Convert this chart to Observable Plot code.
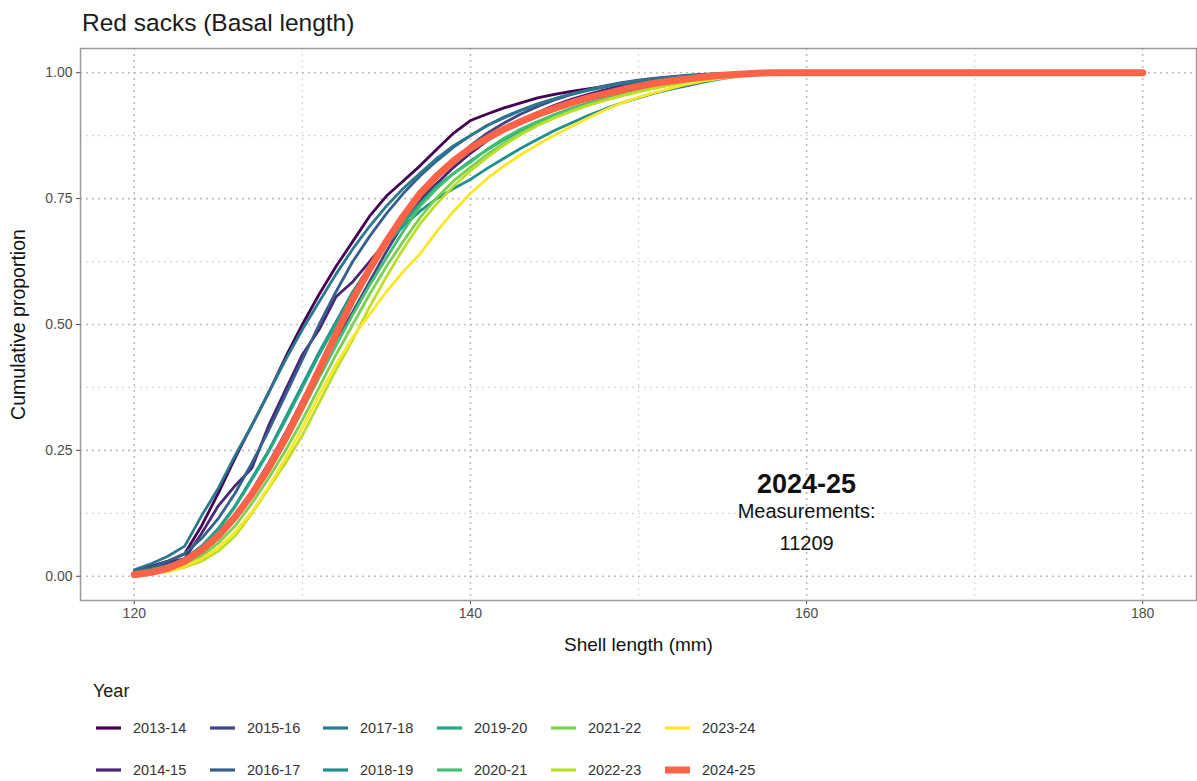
<!DOCTYPE html>
<html><head><meta charset="utf-8">
<script src="https://cdn.jsdelivr.net/npm/d3@7"></script>
<script src="https://cdn.jsdelivr.net/npm/@observablehq/plot@0.6"></script>
<style>
body{margin:0;background:#fff;font-family:"Liberation Sans",Arial,sans-serif;}
#wrap{position:relative;width:1197px;height:781px;overflow:hidden;}
#title{position:absolute;left:82px;top:9px;font-size:24.5px;color:#1a1a1a;white-space:nowrap;}
#chart{position:absolute;left:0;top:40px;}
#legend{position:absolute;left:0;top:668px;width:1197px;height:113px;}
.lt{position:absolute;left:93px;top:13px;font-size:18px;color:#1a1a1a;}
.li{position:absolute;display:flex;align-items:center;font-size:14.5px;color:#333;white-space:nowrap;}
.li svg{margin-right:12px;}
</style></head>
<body><div id="wrap"><div id="title">Red sacks (Basal length)</div><div id="chart"></div><div id="legend"></div></div>
<script>
const lengths = [120,121,122,123,124,125,126,127,128,129,130,131,132,133,134,135,136,137,138,139,140,141,142,143,144,145,146,147,148,149,150,151,152,153,154,155,156,157,158,159,160,180];
const years = ["2013-14","2014-15","2015-16","2016-17","2017-18","2018-19","2019-20","2020-21","2021-22","2022-23","2023-24","2024-25"];
const colors = ["#440154","#482576","#414487","#35608D","#2A788E","#21908C","#22A884","#43BF71","#7AD151","#BBDF27","#FDE725","#FF6347"];
const y2013_14 = [.012,.02,.03,.045,.10,.165,.235,.30,.365,.435,.50,.56,.615,.665,.715,.755,.785,.815,.848,.88,.905,.918,.93,.94,.95,.957,.963,.968,.973,.978,.982,.986,.99,.993,.995,.997,.998,.999,1,1,1,1];
const y2014_15 = [.01,.017,.027,.035,.085,.14,.18,.215,.30,.37,.44,.49,.555,.585,.625,.665,.705,.745,.78,.812,.84,.865,.886,.905,.921,.935,.947,.957,.966,.974,.98,.985,.989,.992,.995,.997,.998,.999,1,1,1,1];
const y2015_16 = [.005,.01,.018,.03,.05,.08,.12,.17,.225,.285,.35,.41,.47,.525,.585,.645,.70,.75,.79,.825,.855,.88,.90,.918,.933,.946,.957,.966,.974,.98,.985,.989,.992,.995,.997,.998,.999,1,1,1,1,1];
const y2016_17 = [.01,.018,.03,.045,.075,.115,.165,.225,.29,.36,.43,.50,.565,.625,.675,.72,.76,.795,.825,.852,.875,.895,.912,.926,.938,.948,.957,.965,.972,.978,.983,.987,.991,.994,.996,.998,.999,1,1,1,1,1];
const y2017_18 = [.013,.025,.04,.06,.12,.175,.24,.30,.365,.43,.49,.545,.60,.65,.695,.735,.77,.80,.83,.855,.875,.895,.91,.925,.937,.948,.958,.966,.973,.979,.984,.988,.991,.994,.996,.998,.999,1,1,1,1,1];
const y2018_19 = [.008,.014,.022,.035,.06,.095,.14,.195,.25,.315,.38,.445,.505,.565,.615,.66,.695,.725,.75,.77,.788,.81,.83,.85,.868,.885,.90,.915,.928,.94,.95,.96,.968,.975,.982,.988,.993,.996,.998,1,1,1];
const y2019_20 = [.006,.012,.02,.033,.058,.092,.138,.192,.248,.31,.375,.44,.50,.56,.612,.66,.70,.74,.775,.80,.825,.847,.867,.885,.90,.914,.926,.937,.947,.956,.964,.971,.977,.983,.988,.992,.995,.998,.999,1,1,1];
const y2020_21 = [.004,.008,.015,.026,.045,.075,.113,.16,.21,.265,.33,.395,.458,.52,.578,.632,.685,.735,.77,.80,.822,.848,.87,.888,.903,.917,.929,.94,.95,.958,.965,.972,.978,.984,.989,.993,.996,.998,.999,1,1,1];
const y2021_22 = [.003,.007,.013,.023,.04,.066,.10,.145,.195,.25,.31,.375,.44,.50,.56,.615,.665,.712,.752,.785,.812,.838,.86,.88,.897,.912,.925,.936,.946,.955,.963,.97,.977,.983,.988,.992,.995,.998,.999,1,1,1];
const y2022_23 = [.002,.005,.01,.018,.03,.05,.08,.125,.175,.225,.28,.345,.41,.47,.535,.595,.65,.70,.74,.775,.805,.832,.856,.877,.895,.91,.923,.935,.945,.954,.962,.97,.976,.982,.987,.991,.995,.997,.999,1,1,1];
const y2023_24 = [.002,.005,.01,.02,.035,.057,.088,.128,.178,.235,.295,.36,.42,.475,.52,.565,.605,.64,.685,.725,.76,.79,.815,.837,.857,.876,.893,.91,.926,.94,.951,.961,.97,.978,.984,.989,.993,.996,.998,1,1,1];
const y2024_25 = [.003,.008,.016,.03,.052,.08,.118,.163,.215,.275,.34,.41,.48,.55,.61,.665,.715,.76,.795,.825,.85,.87,.888,.903,.917,.929,.94,.95,.958,.966,.973,.979,.984,.988,.992,.995,.997,.999,1,1,1,1];
const xMajor = [120,140,160,180];
const xMinor = [130,150,170];
const yMajor = [0,0.25,0.5,0.75,1];
const yMinor = [0.125,0.375,0.625,0.875];
const annoTitle = "2024-25";
const annoLabel = "Measurements:";
const annoCount = "11209";

const seriesList = [y2013_14,y2014_15,y2015_16,y2016_17,y2017_18,y2018_19,y2019_20,y2020_21,y2021_22,y2022_23,y2023_24,y2024_25];
const data = [];
seriesList.forEach((s,i)=>s.forEach((v,j)=>data.push({year:years[i],len:lengths[j],p:v})));
const base = data.filter(d=>d.year!=="2024-25");
const last = data.filter(d=>d.year==="2024-25");

const chart = Plot.plot({
  width:1197, height:625,
  marginLeft:80, marginRight:1, marginTop:8, marginBottom:65,
  style:{fontFamily:"'Liberation Sans',Arial,sans-serif", fontSize:"14px", background:"#fff"},
  x:{domain:[116.8,183.2]},
  y:{domain:[-0.048,1.048]},
  color:{domain:years, range:colors},
  marks:[
    Plot.gridX(xMinor,{stroke:"#d6d6d6",strokeOpacity:1,strokeDasharray:"2,4",strokeWidth:1.2}),
    Plot.gridY(yMinor,{stroke:"#d6d6d6",strokeOpacity:1,strokeDasharray:"2,4",strokeWidth:1.2}),
    Plot.gridX(xMajor,{stroke:"#bdbdbd",strokeOpacity:1,strokeDasharray:"2,4",strokeWidth:1.6}),
    Plot.gridY(yMajor,{stroke:"#bdbdbd",strokeOpacity:1,strokeDasharray:"2,4",strokeWidth:1.6}),
    Plot.axisX(xMajor,{tickSize:4,tickPadding:4,fontSize:14,color:"#4d4d4d",label:null}),
    Plot.axisY(yMajor,{tickSize:4,tickPadding:4,fontSize:14,color:"#4d4d4d",label:null,tickFormat:d3.format(".2f")}),
    Plot.line(base,{x:"len",y:"p",z:"year",stroke:"year",strokeWidth:2.8,curve:"linear"}),
    Plot.line(last,{x:"len",y:"p",z:"year",stroke:"year",strokeWidth:7,curve:"linear"}),
    Plot.text([annoTitle],{x:()=>160,y:()=>0.183,text:d=>d,fill:"#111",fontSize:27,fontWeight:"bold"}),
    Plot.text([annoLabel],{x:()=>160,y:()=>0.128,text:d=>d,fill:"#111",fontSize:20}),
    Plot.text([annoCount],{x:()=>160,y:()=>0.065,text:d=>d,fill:"#111",fontSize:20}),
    Plot.frame({stroke:"#9a9a9a",strokeWidth:1.5}),
    Plot.text(["Shell length (mm)"],{frameAnchor:"bottom",dy:50,fontSize:19,fill:"#111",textAnchor:"middle"}),
    Plot.text(["Cumulative proportion"],{frameAnchor:"left",dx:-62,rotate:-90,fontSize:19.5,fill:"#111",textAnchor:"middle"})
  ]
});
document.getElementById("chart").appendChild(chart);

// Legend
const leg = document.getElementById("legend");
const lt = document.createElement("div"); lt.className="lt"; lt.textContent="Year"; leg.appendChild(lt);
const colX = [96,210,323,437,551,665];
const rowY = [60,102];
years.forEach((y,i)=>{
  const c = Math.floor(i/2), r = i%2;
  const d = document.createElement("div"); d.className="li";
  d.style.left = colX[c]+"px"; d.style.top = (rowY[r]-9)+"px"; d.style.height="18px";
  const w = y==="2024-25"?7:3.2;
  d.innerHTML = `<svg width="25" height="18"><line x1="0" x2="25" y1="9" y2="9" stroke="${colors[i]}" stroke-width="${w}"/></svg><span>${y}</span>`;
  leg.appendChild(d);
});
</script></body></html>
